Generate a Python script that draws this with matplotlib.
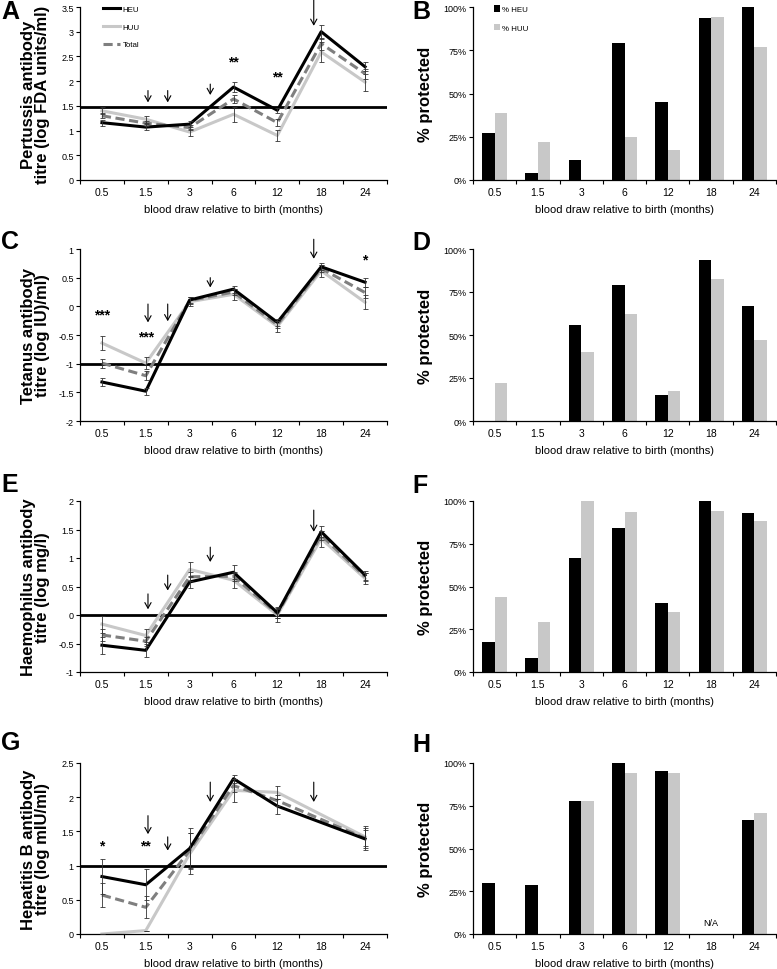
import numpy as np
import matplotlib
matplotlib.use('Agg')
import matplotlib.pyplot as plt
from matplotlib.ticker import FuncFormatter

plt.rcParams['font.family'] = ['Liberation Sans', 'DejaVu Sans']

months = ['0.5', '1.5', '3', '6', '12', '18', '24']
nan = np.nan

# ---- antibody titres (log), group means and error bars ----
pert_heu = [1.16, 1.07, 1.13, 1.88, 1.41, 3.00, 2.29]
pert_huu = [1.40, 1.23, 0.97, 1.33, 0.90, 2.59, 1.98]
pert_tot = [1.30, 1.15, 1.06, 1.64, 1.16, 2.76, 2.15]
pert_heu_err = [0.06, 0.06, 0.06, 0.10, 0.05, 0.14, 0.09]
pert_huu_err = [0.07, 0.07, 0.07, 0.15, 0.12, 0.20, 0.17]
pert_tot_err = [0.05, 0.05, 0.05, 0.08, 0.07, 0.12, 0.10]

tet_heu = [-1.32, -1.48, 0.11, 0.30, -0.28, 0.69, 0.42]
tet_huu = [-0.64, -0.99, 0.08, 0.21, -0.35, 0.62, 0.07]
tet_tot = [-0.99, -1.21, 0.10, 0.25, -0.32, 0.66, 0.24]
tet_heu_err = [0.07, 0.06, 0.06, 0.06, 0.06, 0.06, 0.08]
tet_huu_err = [0.13, 0.10, 0.08, 0.10, 0.10, 0.10, 0.12]
tet_tot_err = [0.08, 0.08, 0.06, 0.06, 0.06, 0.06, 0.10]

hib_heu = [-0.53, -0.62, 0.58, 0.75, 0.04, 1.46, 0.70]
hib_huu = [-0.16, -0.36, 0.80, 0.61, 0.00, 1.34, 0.64]
hib_tot = [-0.35, -0.46, 0.67, 0.68, 0.02, 1.40, 0.67]
hib_heu_err = [0.15, 0.12, 0.10, 0.12, 0.10, 0.10, 0.08]
hib_huu_err = [0.15, 0.12, 0.13, 0.13, 0.12, 0.14, 0.10]
hib_tot_err = [0.10, 0.08, 0.08, 0.08, 0.08, 0.08, 0.07]

hepb_heu = [0.84, 0.72, 1.25, 2.27, 1.87, nan, 1.39]
hepb_huu = [0.00, 0.05, 1.17, 2.10, 2.07, nan, 1.42]
hepb_tot = [0.57, 0.39, 1.22, 2.17, 1.95, nan, 1.40]
hepb_heu_err = [0.25, 0.23, 0.30, 0.06, 0.11, nan, 0.16]
hepb_huu_err = [0.00, 0.00, 0.30, 0.17, 0.10, nan, 0.16]
hepb_tot_err = [0.18, 0.16, 0.25, 0.10, 0.08, nan, 0.12]

# ---- % protected ----
pert_prot_heu = [27.3, 4.3, 11.3, 79.3, 44.8, 93.6, 100.0]
pert_prot_huu = [39.0, 22.0, 0.0, 25.0, 17.5, 94.0, 76.6]
tet_prot_heu = [0.0, 0.0, 55.7, 79.2, 15.3, 93.8, 66.6]
tet_prot_huu = [21.9, 0.0, 40.2, 62.5, 17.7, 82.5, 47.2]
hib_prot_heu = [17.8, 8.0, 66.7, 84.3, 40.1, 100.0, 93.2]
hib_prot_huu = [43.6, 29.2, 100.0, 93.7, 35.0, 94.1, 88.3]
hepb_prot_heu = [29.9, 28.6, 77.9, 100.0, 95.5, nan, 66.7]
hepb_prot_huu = [0.0, 0.0, 77.9, 94.0, 94.0, nan, 70.6]

# protective thresholds
pert_thr, tet_thr, hib_thr, hepb_thr = 1.48, -1.0, 0.0, 1.0

# vaccination arrows: (x position in category units, top, bottom)
pert_arrows = [(1.05, 1.81, 1.57), (1.5, 1.81, 1.57), (2.47, 1.94, 1.72), (4.83, 3.68, 3.12)]
tet_arrows = [(1.05, 0.04, -0.28), (1.5, 0.04, -0.26), (2.47, 0.5, 0.33), (4.83, 1.17, 0.83)]
hib_arrows = [(1.05, 0.37, 0.1), (1.5, 0.70, 0.43), (2.47, 1.19, 0.93), (4.83, 1.84, 1.46)]
hepb_arrows = [(1.05, 1.73, 1.46), (1.5, 1.42, 1.22), (2.47, 2.22, 1.93), (4.83, 2.22, 1.93)]

# significance marks
pert_stars = [(3, 2.40, '**'), (4, 2.10, '**')]
tet_stars = [(0, -0.14, '***'), (1, -0.53, '***'), (6, 0.81, '*')]
hib_stars = []
hepb_stars = [(0, 1.29, '*'), (1, 1.29, '**')]

x = np.arange(len(months))


def style_axes(ax):
    ax.spines['top'].set_visible(False)
    ax.spines['right'].set_visible(False)
    ax.spines['left'].set_linewidth(0.9)
    ax.spines['bottom'].set_linewidth(0.9)
    ax.set_xlim(-0.5, len(months) - 0.5)
    ax.set_xticks(np.arange(-0.5, len(months), 1))
    ax.set_xticklabels([])
    ax.set_xticks(x, minor=True)
    ax.set_xticklabels(months, minor=True, fontsize=7.5)
    ax.tick_params(axis='x', which='major', direction='out', length=3, width=0.8)
    ax.tick_params(axis='x', which='minor', length=0, pad=5)
    ax.tick_params(axis='y', direction='out', length=3, width=0.8, labelsize=6.5, pad=1.5)
    ax.set_xlabel('blood draw relative to birth (months)', fontsize=8)
    ax.xaxis.set_label_coords(0.5, -0.14)


def line_panel(ax, heu, huu, tot, e_heu, e_huu, e_tot, ylim, thr, arrows, stars, ylabel):
    heu, huu, tot = np.array(heu), np.array(huu), np.array(tot)
    m = ~np.isnan(heu)
    ax.axhline(thr, color='black', lw=2.0, zorder=1)
    ax.plot(x[m], huu[m], color='#c8c8c8', lw=2.2, zorder=2, label='HUU')
    ax.plot(x[m], tot[m], color='#7f7f7f', lw=2.2, ls=(0, (3, 1.5)), zorder=3, label='Total')
    ax.plot(x[m], heu[m], color='black', lw=2.2, zorder=4, label='HEU')
    for y, e in [(huu, e_huu), (tot, e_tot), (heu, e_heu)]:
        e = np.array(e)
        ax.errorbar(x[m], y[m], yerr=e[m], fmt='none', ecolor='#333333',
                    elinewidth=0.6, capsize=1.8, capthick=0.6, zorder=5)
    for xa, y0, y1 in arrows:
        ax.annotate('', xy=(xa, y1), xytext=(xa, y0), annotation_clip=False,
                    arrowprops=dict(arrowstyle='->,head_length=0.5,head_width=0.28',
                                    lw=0.8, color='black', mutation_scale=8,
                                    shrinkA=0, shrinkB=0))
    for xs, ys, s in stars:
        ax.text(xs, ys, s, ha='center', va='center', fontsize=10, weight='bold')
    ax.set_ylim(*ylim)
    ax.set_yticks(np.arange(ylim[0], ylim[1] + 0.01, 0.5))
    ax.yaxis.set_major_formatter(FuncFormatter(lambda v, p: f'{v:g}'))
    ax.set_ylabel(ylabel, fontsize=12, weight='bold', linespacing=0.92)
    ax.yaxis.set_label_coords(-0.097, 0.5)
    style_axes(ax)


def bar_panel(ax, heu, huu):
    heu, huu = np.array(heu), np.array(huu)
    w = 0.29
    ax.bar(x - w / 2, np.nan_to_num(heu), w, color='black', label='% HEU')
    ax.bar(x + w / 2, np.nan_to_num(huu), w, color='#c8c8c8', label='% HUU')
    ax.set_ylim(0, 100)
    ax.set_yticks([0, 25, 50, 75, 100])
    ax.yaxis.set_major_formatter(FuncFormatter(lambda v, p: f'{v:g}%'))
    ax.set_ylabel('% protected', fontsize=12, weight='bold')
    ax.yaxis.set_label_coords(-0.132, 0.5)
    style_axes(ax)


fig = plt.figure(figsize=(7.77, 9.70), dpi=100)
W, H = 777, 970
rows = [(8, 181), (250, 422), (502, 673), (764, 935)]
axes = []
for top, bot in rows:
    axl = fig.add_axes([80 / W, 1 - bot / H, 307 / W, (bot - top) / H])
    axr = fig.add_axes([473 / W, 1 - bot / H, 303 / W, (bot - top) / H])
    axes.append((axl, axr))

line_panel(axes[0][0], pert_heu, pert_huu, pert_tot, pert_heu_err, pert_huu_err, pert_tot_err,
           (0, 3.5), pert_thr, pert_arrows, pert_stars,
           'Pertussis antibody\ntitre (log FDA units/ml)')
line_panel(axes[1][0], tet_heu, tet_huu, tet_tot, tet_heu_err, tet_huu_err, tet_tot_err,
           (-2, 1), tet_thr, tet_arrows, tet_stars,
           'Tetanus antibody\ntitre (log IU)/ml)')
line_panel(axes[2][0], hib_heu, hib_huu, hib_tot, hib_heu_err, hib_huu_err, hib_tot_err,
           (-1, 2), hib_thr, hib_arrows, hib_stars,
           'Haemophilus antibody\ntitre (log mg/l)')
line_panel(axes[3][0], hepb_heu, hepb_huu, hepb_tot, hepb_heu_err, hepb_huu_err, hepb_tot_err,
           (0, 2.5), hepb_thr, hepb_arrows, hepb_stars,
           'Hepatitis B antibody\ntitre (log mIU/ml)')

bar_panel(axes[0][1], pert_prot_heu, pert_prot_huu)
bar_panel(axes[1][1], tet_prot_heu, tet_prot_huu)
bar_panel(axes[2][1], hib_prot_heu, hib_prot_huu)
bar_panel(axes[3][1], hepb_prot_heu, hepb_prot_huu)
axes[3][1].text(5, 6.5, 'N/A', ha='center', va='center', fontsize=6.5)

# legends
h, l = axes[0][0].get_legend_handles_labels()
order = [2, 0, 1]
axes[0][0].legend([h[i] for i in order], [l[i] for i in order], loc='upper left',
                  bbox_to_anchor=(0.075, 1.01), frameon=False, fontsize=5.7,
                  handlelength=2.2, handletextpad=0.3, labelspacing=1.3,
                  borderpad=0, borderaxespad=0)
axes[0][1].legend(loc='upper left', bbox_to_anchor=(0.07, 1.01), frameon=False, fontsize=5.7,
                  handlelength=0.7, handleheight=0.9, handletextpad=0.3, labelspacing=1.3,
                  borderpad=0, borderaxespad=0)

# panel letters
for letter, px, py in [('A', 1, 0), ('B', 412, 0), ('C', 1, 230), ('D', 412, 231),
                       ('E', 1, 473), ('F', 412, 474), ('G', 1, 731), ('H', 412, 733)]:
    fig.text(px / W, 1 - py / H, letter, fontsize=18, weight='bold', ha='left', va='top')

fig.savefig('out.png', dpi=100)
